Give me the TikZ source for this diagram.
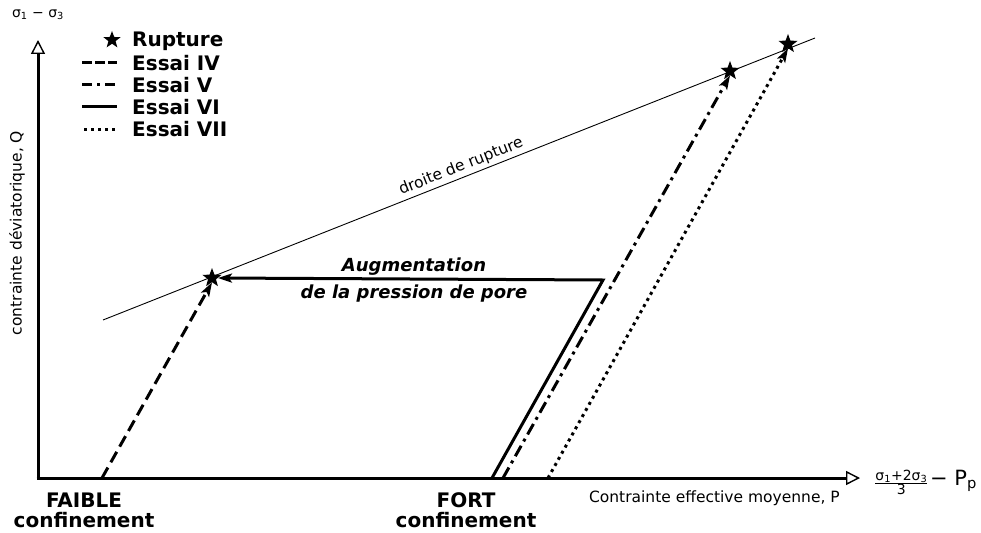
\documentclass[tikz,border=0pt]{standalone}
\usepackage{fontspec}
\setmainfont{DejaVu Sans}
\usetikzlibrary{arrows.meta,shapes.geometric}
\begin{document}
\begin{tikzpicture}[x=1pt,y=-1pt,
  axis/.style={line width=3pt,-{Triangle[open,length=14pt,width=14pt,line width=1.4pt]}},
  essai/.style={line width=3pt},
  tip/.style={-{Stealth[length=14pt,width=9pt,inset=3pt]}},
  dIV/.style={dash pattern=on 12pt off 6pt},
  dV/.style={dash pattern=on 12pt off 5pt on 3pt off 5pt},
  dVII/.style={dash pattern=on 3pt off 4pt},
  rup/.style={star,star points=5,star point ratio=2.4,fill=black,inner sep=0pt,minimum size=20pt},
  lbl/.style={font=\fontsize{20}{22}\selectfont\bfseries,inner sep=0pt},
  aug/.style={font=\fontsize{18}{20}\selectfont\bfseries\itshape,inner sep=0pt},
  small/.style={font=\fontsize{15.5}{17}\selectfont,inner sep=0pt}]
\useasboundingbox (0,0) rectangle (981,532);
% axes
\coordinate (O) at (38,478);
\coordinate (Ytop) at (38,40);
\coordinate (Xend) at (860,478);
\draw[axis] (O) -- (Ytop);
\draw[axis] ([xshift=-1.5pt]O) -- (Xend);
\node[small,font=\fontsize{14}{16}\selectfont] (ylab) at (38,15) {σ\textsubscript{1} − σ\textsubscript{3}};
\node[small,rotate=90] (yname) at (17,233) {contrainte déviatorique, Q};
\node[small,anchor=east] (xname) at (840,498) {Contrainte effective moyenne, P};
\node[anchor=west,inner sep=0pt] (xlab) at (874,482) {$\frac{\mbox{\fontsize{14}{15}\selectfont σ\textsubscript{1}+2σ\textsubscript{3}}}{\mbox{\fontsize{14}{15}\selectfont 3}}$\,{\fontsize{21}{23}\selectfont − P\textsubscript{p}}};
% rupture line
\coordinate (r1) at (103,320);
\coordinate (r2) at (815,38);
\draw[line width=0.9pt] (r1) -- (r2);
\node[small,rotate=21.6,anchor=south,inner sep=3pt] (dlab) at (465,176.6) {droite de rupture};
% stars
\node[rup] (s1) at (212,278) {};
\node[rup] (s2) at (730,71) {};
\node[rup] (s3) at (788,44) {};
% paths
\coordinate (a4) at (102,478);
\coordinate (a6) at (492,478);
\coordinate (k6) at (603,280);
\coordinate (a5) at (503,478);
\coordinate (a7) at (548,478);
\draw[essai,dIV,tip] (a4) -- (s1.south);
\draw[essai,tip] (a6) -- (k6) -- (s1.east);
\draw[essai,dV,tip] (a5) -- (s2.south);
\draw[essai,dVII,tip] (a7) -- (s3.south);
% labels
\node[aug] (aug1) at (414,267) {Augmentation};
\node[aug] (aug2) at (414,294) {de la pression de pore};
\node[lbl] (faible1) at (84,500) {FAIBLE};
\node[lbl] (faible2) at (84,520) {confinement};
\node[lbl] (fort1) at (466,500) {FORT};
\node[lbl] (fort2) at (466,520) {confinement};
% legend
\node[rup,minimum size=18pt] (ls) at (112,40) {};
\node[lbl,anchor=west] (lr) at (132,41) {Rupture};
\coordinate (l4a) at (82,63); \coordinate (l4b) at (117,63);
\coordinate (l5a) at (82,85); \coordinate (l5b) at (117,85);
\coordinate (l6a) at (82,107); \coordinate (l6b) at (117,107);
\coordinate (l7a) at (84,129); \coordinate (l7b) at (117,129);
\draw[essai,dash pattern=on 10pt off 3pt] (l4a) -- (l4b);
\draw[essai,dash pattern=on 10pt off 5pt on 3pt off 5pt] (l5a) -- (l5b);
\draw[essai] (l6a) -- (l6b);
\draw[essai,dVII] (l7a) -- (l7b);
\node[lbl,anchor=west] (t4) at (132,63) {Essai IV};
\node[lbl,anchor=west] (t5) at (132,85) {Essai V};
\node[lbl,anchor=west] (t6) at (132,107) {Essai VI};
\node[lbl,anchor=west] (t7) at (132,129) {Essai VII};
\end{tikzpicture}
\end{document}
